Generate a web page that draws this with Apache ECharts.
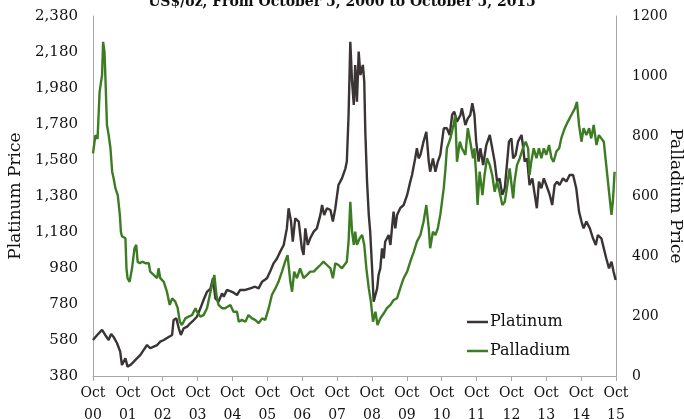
<!DOCTYPE html>
<html><head><meta charset="utf-8">
<script src="https://cdn.jsdelivr.net/npm/echarts@6/dist/echarts.min.js"></script>
<style>html,body{margin:0;padding:0;background:#fff}#c{width:684px;height:419px}</style>
</head><body><div id="c"></div>
<script>
// Time is in years since Oct 5, 2000
const titleText = 'US$/oz, From October 5, 2000 to October 5, 2015';
const yearLabels = ['00','01','02','03','04','05','06','07','08','09','10','11','12','13','14','15'];

const platinumTime = [0.00,0.12,0.26,0.35,0.45,0.52,0.59,0.69,0.78,0.83,0.93,0.99,1.07,1.17,1.26,1.36,1.45,1.55,1.64,1.74,1.84,1.93,2.03,2.17,2.27,2.31,2.39,2.46,2.52,2.60,2.70,2.79,2.89,2.98,3.08,3.17,3.27,3.37,3.44,3.51,3.60,3.70,
3.75,3.84,3.99,4.13,4.22,4.37,4.51,4.65,4.75,4.85,4.99,5.08,5.18,5.28,5.37,5.47,5.56,5.61,5.68,5.73,5.80,5.90,5.99,6.04,6.09,6.16,6.23,6.33,6.42,6.52,6.57,6.63,6.71,6.81,6.88,6.95,7.04,7.14,7.24,7.28,7.33,7.38,
7.43,7.48,7.52,7.57,7.62,7.67,7.74,7.78,7.81,7.86,7.91,7.95,8.00,8.05,8.10,8.15,8.19,8.24,8.29,8.34,8.38,8.48,8.53,8.62,8.67,8.72,8.81,8.91,9.01,9.10,9.15,9.24,9.29,9.34,9.39,9.48,9.56,9.63,9.67,9.75,9.82,9.89,9.96,10.01,10.06,10.15,10.23,10.30,10.36,10.44,10.54,10.58,10.68,10.75,10.82,10.88,10.94,10.99,11.06,11.11,
11.19,11.28,11.38,11.45,11.52,11.59,11.66,11.74,11.81,11.87,11.93,12.00,12.05,12.12,12.19,12.29,12.33,12.38,12.45,12.52,12.60,12.67,12.73,12.79,12.86,12.93,13.00,13.10,13.17,13.24,13.31,13.38,13.48,13.58,13.67,13.77,13.86,13.94,14.01,14.07,14.15,14.25,14.34,14.42,14.48,14.58,14.65,14.72,14.80,14.87,14.93,14.99];
const platinumPrice = [580,608,636,608,580,614,597,562,515,441,478,432,441,460,478,497,524,552,534,543,552,571,580,597,608,691,700,645,608,645,654,673,691,709,756,802,848,866,923,811,793,839,
821,858,848,830,858,858,867,876,867,904,923,960,1006,1034,1071,1108,1200,1312,1238,1126,1256,1238,1089,1052,1200,1108,1145,1182,1200,1274,1330,1274,1312,1302,1238,1312,1441,1478,1534,1571,1830,2237,
2015,1886,2108,1904,2182,2052,2108,2015,1737,1460,1274,1182,997,793,830,867,941,978,1089,1034,1126,1163,1108,1293,1200,1274,1312,1330,1386,1460,1497,1589,1645,1589,1608,1682,1737,1571,1515,1589,1515,1571,1608,1682,1756,1756,1719,1830,1849,1793,1830,1867,1774,1811,1830,1895,1830,1682,1571,1645,
1552,1663,1719,1645,1571,1460,1478,1386,1423,1552,1682,1700,1589,1608,1682,1719,1663,1571,1589,1441,1478,1386,1312,1460,1423,1478,1441,1386,1330,1441,1460,1441,1478,1460,1497,1497,1423,1293,1238,1200,1238,1200,1145,1108,1163,1145,1089,1034,978,1015,960,913];

const palladiumTime = [0.00,0.07,0.13,0.19,0.26,0.29,0.33,0.36,0.40,0.45,0.50,0.55,0.59,0.64,0.71,0.77,0.80,0.83,0.88,0.93,0.96,0.99,1.05,1.12,1.19,1.24,1.28,1.34,1.41,1.50,1.60,1.64,1.74,1.84,1.88,1.93,2.03,2.12,2.20,2.27,2.36,2.43,2.49,2.55,2.65,2.74,2.84,2.94,2.98,3.08,3.17,3.27,3.37,3.48,3.54,3.60,3.70,
3.79,3.94,4.03,4.13,4.18,4.27,4.37,4.46,4.56,4.65,4.75,4.85,4.94,5.04,5.13,5.23,5.32,5.42,5.51,5.58,5.66,5.71,5.77,5.85,5.94,6.04,6.14,6.23,6.33,6.42,6.52,6.61,6.71,6.81,6.88,6.95,7.04,7.14,7.21,7.28,7.33,7.38,
7.43,7.48,7.52,7.57,7.65,7.72,7.78,7.84,7.91,7.97,8.03,8.10,8.16,8.24,8.34,8.43,8.53,8.62,8.72,8.81,8.91,9.01,9.10,9.20,9.29,9.39,9.48,9.56,9.63,9.67,9.75,9.82,9.89,9.96,10.06,10.11,10.15,10.25,10.34,10.39,10.44,10.52,10.58,10.68,10.75,10.82,10.90,10.94,10.99,11.03,
11.09,11.17,11.23,11.30,11.38,11.45,11.52,11.59,11.66,11.74,11.81,11.87,11.95,12.05,12.09,12.16,12.24,12.33,12.41,12.48,12.52,12.57,12.64,12.72,12.79,12.86,12.93,13.00,13.08,13.15,13.21,13.29,13.37,13.43,13.53,13.62,13.72,13.82,13.88,13.94,14.01,14.07,14.15,14.23,14.29,14.36,14.44,14.51,14.58,14.65,14.72,14.80,14.87,14.91,14.96];
const palladiumPrice = [742,803,790,948,1003,1114,1080,981,837,803,760,681,660,627,603,537,481,466,470,459,359,326,314,359,426,437,381,376,381,376,376,348,337,326,359,326,314,281,237,259,248,226,181,170,192,198,203,226,214,198,203,226,281,337,270,237,226,
226,237,214,214,181,187,181,203,192,187,176,192,187,226,270,292,314,348,381,403,314,281,348,326,359,326,337,348,348,359,370,381,370,359,326,376,370,359,370,381,448,581,
481,437,481,437,459,470,437,359,292,248,181,214,170,192,209,226,237,253,259,292,326,348,381,414,448,470,514,570,492,426,481,470,492,537,626,692,759,792,837,870,714,781,759,737,826,781,726,759,670,570,
681,603,670,726,703,670,614,648,614,570,581,626,692,592,648,703,726,759,781,759,670,714,759,726,759,726,759,737,770,726,714,748,759,792,826,848,870,892,914,837,781,826,803,826,792,837,770,803,792,781,703,614,537,581,681];

const platinumColor = '#3a3434';
const palladiumColor = '#3c7d23';
const serif = '"DejaVu Serif", serif';

function pairs(t, v) { return t.map((x, i) => [x, v[i]]); }

const chart = echarts.init(document.getElementById('c'), null, {renderer: 'canvas'});
chart.setOption({
  animation: false,
  backgroundColor: '#ffffff',
  title: {
    text: titleText, left: 'center', top: -10,
    textStyle: {fontFamily: serif, fontWeight: 'bold', fontSize: 14, color: '#111'}
  },
  grid: {left: 93, right: 68, top: 16, bottom: 43, containLabel: false, outerBoundsMode: 'none'},
  legend: {
    orient: 'vertical', left: 462, top: 309, itemGap: 13,
    itemWidth: 21, itemHeight: 2.5, icon: 'rect',
    textStyle: {fontFamily: serif, fontSize: 16, color: '#111', padding: [0,0,0,-3]},
    data: ['Platinum', 'Palladium']
  },
  graphic: [{
    type: 'text', x: 675, y: 196, rotation: -Math.PI / 2,
    style: {text: 'Palladium Price', font: '17px "DejaVu Serif", serif', fill: '#111',
      align: 'center', verticalAlign: 'middle'}
  }],
  xAxis: {
    type: 'value', min: 0, max: 15, interval: 1,
    axisLine: {show: true, lineStyle: {color: '#a6a6a6', width: 1}},
    axisTick: {show: true, length: 5, lineStyle: {color: '#a6a6a6'}},
    splitLine: {show: false},
    axisLabel: {
      fontFamily: serif, fontSize: 14, color: '#111', lineHeight: 22, margin: 6,
      formatter: v => 'Oct\n' + yearLabels[Math.round(v)]
    }
  },
  yAxis: [{
    type: 'value', min: 380, max: 2380, interval: 200, position: 'left',
    name: 'Platinum Price', nameLocation: 'middle', nameGap: 60, nameRotate: 90,
    nameTextStyle: {fontFamily: serif, fontSize: 17, color: '#111'},
    axisLine: {show: true, lineStyle: {color: '#a6a6a6', width: 1}},
    axisTick: {show: false}, splitLine: {show: false},
    axisLabel: {fontFamily: serif, fontSize: 15, color: '#111', margin: 15,
      formatter: v => v.toLocaleString('en-US')}
  }, {
    type: 'value', min: 0, max: 1200, interval: 200, position: 'right',
    axisLine: {show: true, lineStyle: {color: '#a6a6a6', width: 1}},
    axisTick: {show: false}, splitLine: {show: false},
    axisLabel: {fontFamily: serif, fontSize: 14, color: '#111', margin: 16,
      formatter: v => String(v)}
  }],
  series: [{
    name: 'Platinum', type: 'line', yAxisIndex: 0, showSymbol: false, symbol: 'none',
    data: pairs(platinumTime, platinumPrice),
    lineStyle: {color: platinumColor, width: 2.4}, itemStyle: {color: platinumColor}
  }, {
    name: 'Palladium', type: 'line', yAxisIndex: 1, showSymbol: false, symbol: 'none',
    data: pairs(palladiumTime, palladiumPrice),
    lineStyle: {color: palladiumColor, width: 2.4}, itemStyle: {color: palladiumColor}
  }]
});
</script></body></html>
